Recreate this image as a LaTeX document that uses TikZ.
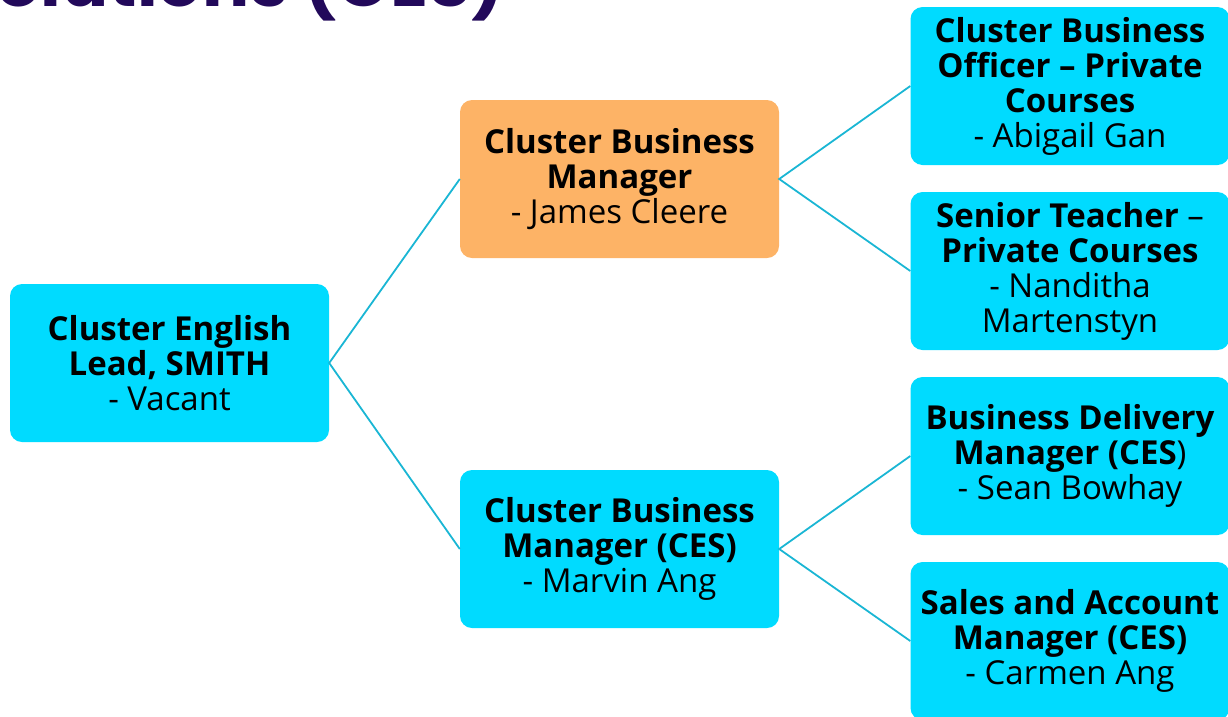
\documentclass[tikz,border=0pt]{standalone}
\usepackage{fontspec}
\setmainfont{Open Sans}
\newfontfamily\titlefont{Poppins}
\definecolor{boxcyan}{HTML}{00DBFF}
\definecolor{boxorange}{HTML}{FDB366}
\definecolor{linecol}{HTML}{1AB6D4}
\definecolor{titlecol}{HTML}{22095A}
\tikzset{
  orgbox/.style={fill=boxcyan, rounded corners=12pt, minimum width=319pt, minimum height=158pt,
    align=center, inner sep=0pt, text=black, font=\fontsize{33}{35}\selectfont},
  orangebox/.style={orgbox, fill=boxorange},
  link/.style={draw=linecol, line width=1.8pt}
}
\begin{document}
\begin{tikzpicture}[x=1pt,y=-1pt]
\useasboundingbox (0,0) rectangle (1228,716);
\clip (0,0) rectangle (1228,716);
\node[anchor=base west, inner sep=0pt, text=titlecol, font=\titlefont\bfseries\fontsize{70}{70}\selectfont] (title) at (-47,6) {Solutions (CES)};
\node[orgbox] (root) at (169.5,363) {\textbf{Cluster English}\\\textbf{Lead, SMITH}\\- Vacant};
\node[orangebox] (cbm) at (619.5,179) {\textbf{Cluster Business}\\\textbf{Manager}\\- James Cleere};
\node[orgbox] (cbmces) at (619.5,549) {\textbf{Cluster Business}\\\textbf{Manager (CES)}\\- Marvin Ang};
\node[orgbox] (cbo) at (1070,86) {\textbf{Cluster Business}\\\textbf{Officer -- Private}\\\textbf{Courses}\\- Abigail Gan};
\node[orgbox] (st) at (1070,271) {\textbf{Senior Teacher} --\\\textbf{Private Courses}\\- Nanditha\\Martenstyn};
\node[orgbox] (bdm) at (1070,456) {\textbf{Business Delivery}\\\textbf{Manager (CES})\\- Sean Bowhay};
\node[orgbox] (sam) at (1070,641) {\textbf{Sales and Account}\\\textbf{Manager (CES)}\\- Carmen Ang};
\draw[link] (cbm.west) -- (root.east) -- (cbmces.west);
\draw[link] (cbo.west) -- (cbm.east) -- (st.west);
\draw[link] (bdm.west) -- (cbmces.east) -- (sam.west);
\end{tikzpicture}
\end{document}
